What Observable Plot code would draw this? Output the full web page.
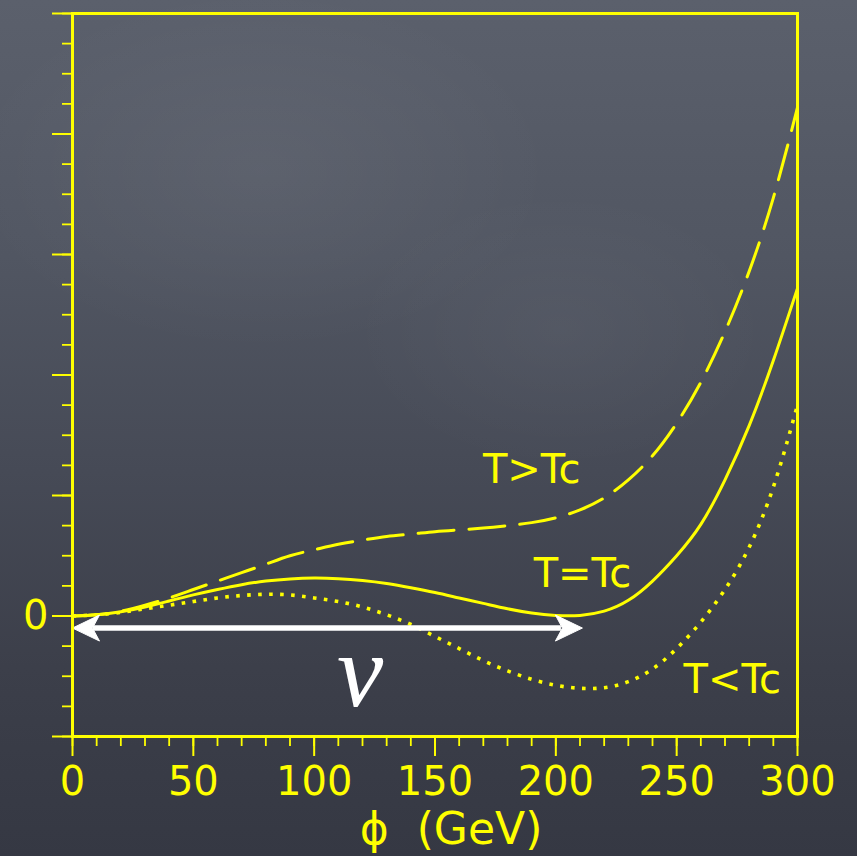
<!DOCTYPE html>
<html>
<head>
<meta charset="utf-8">
<script src="https://cdn.jsdelivr.net/npm/d3@7"></script>
<script src="https://cdn.jsdelivr.net/npm/@observablehq/plot@0.6"></script>
<style>
  html, body { margin: 0; padding: 0; }
  body {
    width: 857px; height: 856px; overflow: hidden;
    background:
      radial-gradient(ellipse 420px 260px at 260px 170px, rgba(255,255,255,0.05), rgba(255,255,255,0) 70%),
      radial-gradient(ellipse 300px 200px at 560px 330px, rgba(255,255,255,0.035), rgba(255,255,255,0) 70%),
      linear-gradient(to bottom, #5b606c 0%, #515662 30%, #464a56 55%, #3c3f4a 78%, #353843 100%);
  }
  #chart svg { display: block; }
  g[aria-label="curve labels"] text { letter-spacing: -2px; }
  g[aria-label="x title"] text { letter-spacing: 1px; }
</style>
</head>
<body>
<div id="chart"></div>
<script>
// ---- data ----
const phi = [0,10,20,30,40,50,60,70,80,90,100,110,120,130,140,150,160,170,180,190,200,210,220,230,240,250,260,270,280,290,300];
// T > Tc (dashed)
const vAbove = [0,0.01,0.04,0.09,0.15,0.22,0.29,0.36,0.43,0.50,0.55,0.595,0.63,0.66,0.68,0.70,0.715,0.73,0.75,0.775,0.815,0.88,0.98,1.13,1.33,1.60,1.94,2.36,2.86,3.47,4.22];
// T = Tc (solid)
const vCrit = [0,0.01,0.035,0.075,0.125,0.175,0.22,0.26,0.29,0.308,0.315,0.31,0.295,0.27,0.235,0.195,0.15,0.105,0.06,0.025,0.005,0.005,0.04,0.13,0.29,0.50,0.76,1.13,1.58,2.12,2.72];
// T < Tc (dotted)
const vBelow = [0,0.01,0.03,0.06,0.09,0.12,0.15,0.17,0.18,0.175,0.15,0.12,0.075,0.01,-0.07,-0.17,-0.27,-0.37,-0.455,-0.525,-0.575,-0.60,-0.595,-0.545,-0.44,-0.27,-0.05,0.22,0.57,1.07,1.75];

const curveLabels = ["T>Tc", "T=Tc", "T<Tc"];
const curveLabelPhi = [190, 211, 273];
const curveLabelV = [1.10, 0.24, -0.64];

const vevSymbol = ["v"];
const vevSymbolPhi = [119];
const vevSymbolV = [-0.75];

const arrowFrom = [0];
const arrowTo = [211];
const arrowV = [-0.10];

const xMajorTicks = [0,50,100,150,200,250,300];
const xMinorTicks = [0,10,20,30,40,50,60,70,80,90,100,110,120,130,140,150,160,170,180,190,200,210,220,230,240,250,260,270,280,290,300];
const yMajorTicks = [-1,0,1,2,3,4,5];
const yMinorTicks = [-1,-0.75,-0.5,-0.25,0,0.25,0.5,0.75,1,1.25,1.5,1.75,2,2.25,2.5,2.75,3,3.25,3.5,3.75,4,4.25,4.5,4.75,5];
const yLabelledTicks = [0];
const xTitle = "ϕ  (GeV)";

// ---- build tables ----
const rows = (vals) => phi.map((p, i) => ({phi: p, V: vals[i]}));
const labels = curveLabels.map((t, i) => ({t, phi: curveLabelPhi[i], V: curveLabelV[i]}));
const vev = vevSymbol.map((t, i) => ({t, phi: vevSymbolPhi[i], V: vevSymbolV[i]}));
const arrow = arrowFrom.map((a, i) => ({a, b: arrowTo[i], V: arrowV[i]}));

const YELLOW = "#ffff00";

const headRight = {
  draw(ctx) {
    ctx.moveTo(0, 0);
    ctx.lineTo(-27, -13);
    ctx.lineTo(-20, 0);
    ctx.lineTo(-27, 13);
    ctx.closePath();
  }
};
const headLeft = {
  draw(ctx) {
    ctx.moveTo(0, 0);
    ctx.lineTo(27, -13);
    ctx.lineTo(20, 0);
    ctx.lineTo(27, 13);
    ctx.closePath();
  }
};

const chart = Plot.plot({
  width: 857,
  height: 856,
  marginLeft: 72,
  marginRight: 60,
  marginTop: 13,
  marginBottom: 120,
  style: {background: "transparent", color: YELLOW, fontFamily: "DejaVu Sans", fontSize: "40px"},
  x: {domain: [0, 300], axis: null},
  y: {domain: [-1, 5], axis: null},
  marks: [
    // minor ticks
    Plot.axisX({ticks: xMinorTicks, tickSize: 10, tickFormat: () => "", label: null, strokeWidth: 1.8}),
    Plot.axisY({ticks: yMinorTicks, tickSize: 10, tickFormat: () => "", label: null, strokeWidth: 1.8}),
    // major ticks
    Plot.axisX({ticks: xMajorTicks, tickSize: 20, tickPadding: 10, label: null, strokeWidth: 2, fontSize: 40}),
    Plot.axisY({ticks: yMajorTicks, tickSize: 20, tickPadding: 4, label: null, strokeWidth: 2, fontSize: 40,
      tickFormat: d => yLabelledTicks.includes(d) ? String(d) : ""}),
    // curves
    Plot.line(rows(vAbove), {x: "phi", y: "V", stroke: YELLOW, strokeWidth: 3, strokeDasharray: "36,15", curve: "natural"}),
    Plot.line(rows(vCrit), {x: "phi", y: "V", stroke: YELLOW, strokeWidth: 3, curve: "natural"}),
    Plot.line(rows(vBelow), {x: "phi", y: "V", stroke: YELLOW, strokeWidth: 3.6, strokeDasharray: "3.6,7.4", strokeLinecap: "butt", curve: "natural"}),
    // arrow for v
    Plot.ruleY(arrow, {y: "V", x1: "a", x2: "b", stroke: "white", strokeWidth: 5.5, insetLeft: 21, insetRight: 21}),
    Plot.dot(arrow, {x: "a", y: "V", symbol: headLeft, fill: "white", stroke: "white", strokeWidth: 1, r: 10}),
    Plot.dot(arrow, {x: "b", y: "V", symbol: headRight, fill: "white", stroke: "white", strokeWidth: 1, r: 10}),
    Plot.text(vev, {x: "phi", y: "V", text: "t", fill: "white", fontFamily: "Liberation Serif", fontStyle: "italic", fontSize: 104, textAnchor: "middle", lineAnchor: "bottom"}),
    // curve labels
    Plot.text(labels, {x: "phi", y: "V", text: "t", fill: YELLOW, fontSize: 40, textAnchor: "middle", lineAnchor: "bottom", ariaLabel: "curve labels"}),
    // x title
    Plot.text([xTitle], {frameAnchor: "bottom", text: d => d, fill: YELLOW, fontSize: 44, lineAnchor: "bottom", dy: 107, dx: 16, ariaLabel: "x title"}),
    Plot.frame({stroke: YELLOW, strokeWidth: 3})
  ]
});
document.getElementById("chart").appendChild(chart);
</script>
</body>
</html>
